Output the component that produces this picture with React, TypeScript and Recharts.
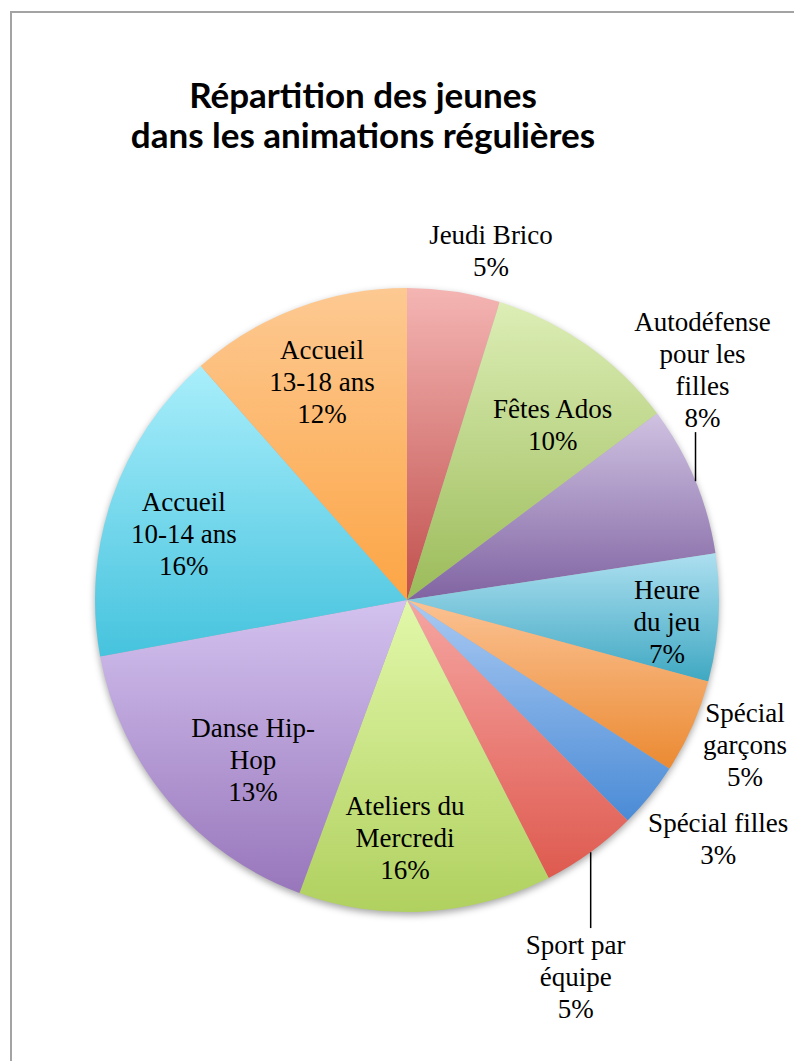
import React from 'react';
import { PieChart, Pie, Cell } from 'recharts';

// ---- Data ----
const categories = [
  'Jeudi Brico',
  'Fêtes Ados',
  'Autodéfense pour les filles',
  'Heure du jeu',
  'Spécial garçons',
  'Spécial filles',
  'Sport par équipe',
  'Ateliers du Mercredi',
  'Danse Hip-Hop',
  'Accueil 10-14 ans',
  'Accueil 13-18 ans',
];
// slice sizes (percent)
const values = [4.8, 10.0, 7.8, 6.6, 4.9, 3.4, 5.0, 13.1, 16.5, 16.4, 11.5];
// percentage labels as printed on the chart
const percentLabels = ['5%', '10%', '8%', '7%', '5%', '3%', '5%', '16%', '13%', '16%', '12%'];
// label line breaks as printed
const labelLines = [
  ['Jeudi Brico'],
  ['Fêtes Ados'],
  ['Autodéfense', 'pour les', 'filles'],
  ['Heure', 'du jeu'],
  ['Spécial', 'garçons'],
  ['Spécial filles'],
  ['Sport par', 'équipe'],
  ['Ateliers du', 'Mercredi'],
  ['Danse Hip-', 'Hop'],
  ['Accueil', '10-14 ans'],
  ['Accueil', '13-18 ans'],
];

// ---- Styles ----
const topColors = ['#f4b5b3', '#ddeeb6', '#d0c2e2', '#addff0', '#fbc293', '#a9c9f2', '#f6a5a2', '#e2f8aa', '#d3c2ef', '#a9eefb', '#fdc992'];
const bottomColors = ['#c0504d', '#9bbb59', '#8064a2', '#3fa8c2', '#eb8a32', '#4a8bd6', '#de5a4f', '#b0d05f', '#9876bb', '#46c3de', '#fca545'];

// label placement: radius factor & angular shift (clockwise, degrees) from the slice mid-angle
const placements = [
  { rf: 1.15, da: 4.9 },
  { rf: 0.73, da: 4.5 },
  { rf: 1.2, da: -15.2, leader: 'below', ldx: -7 },
  { rf: 0.836, da: 1.6 },
  { rf: 1.179, da: -0.7 },
  { rf: 1.257, da: -1.4 },
  { rf: 1.324, da: 11.9, leader: 'above', ldx: 15 },
  { rf: 0.763, da: 3.9 },
  { rf: 0.712, da: -6 },
  { rf: 0.746, da: -2.6 },
  { rf: 0.75, da: -0.6 },
];

const data = categories.map((name, i) => ({ name, value: values[i] }));

const LINE_H = 32;
const RAD = Math.PI / 180;

const renderLabel = (props: any) => {
  const { cx, cy, midAngle, outerRadius, index } = props;
  const p: any = placements[index];
  const a = (midAngle - p.da) * RAD;
  const r = outerRadius * p.rf;
  const x = cx + r * Math.cos(a);
  const y = cy - r * Math.sin(a);
  const lines = [...labelLines[index], percentLabels[index]];
  const n = lines.length;
  const firstY = y - ((n - 1) * LINE_H) / 2;
  let leader = null;
  if (p.leader) {
    const lx = x + p.ldx;
    const h = Math.sqrt(Math.max(0, outerRadius * outerRadius - (lx - cx) * (lx - cx)));
    if (p.leader === 'below') {
      const y1 = firstY + (n - 1) * LINE_H + 14;
      const y2 = cy - h;
      leader = <line x1={lx} y1={y1} x2={lx} y2={y2} stroke="#000" strokeWidth={1.5} />;
    } else {
      const y1 = firstY - 17;
      const y2 = cy + h;
      leader = <line x1={lx} y1={y1} x2={lx} y2={y2} stroke="#000" strokeWidth={1.5} />;
    }
  }
  return (
    <g key={`lbl-${index}`}>
      {leader}
      <text
        x={x}
        y={firstY}
        textAnchor="middle"
        fill="#000"
        style={{ fontFamily: '"Liberation Serif", "DejaVu Serif", serif', fontSize: 27 }}
      >
        {lines.map((t, i) => (
          <tspan key={i} x={x} y={firstY + i * LINE_H} dominantBaseline="central">
            {t}
          </tspan>
        ))}
      </text>
    </g>
  );
};

export default function App() {
  return (
    <div style={{ position: 'absolute', left: 0, top: 0, width: 794, height: 1061, overflow: 'hidden', background: '#fff' }}>
      <div
        style={{
          position: 'absolute',
          left: 10,
          top: 11,
          width: 790,
          height: 1060,
          borderTop: '2px solid #a3a3a3',
          borderLeft: '2px solid #a3a3a3',
        }}
      />
      <div
        style={{
          position: 'absolute',
          left: 0,
          width: 726,
          top: 74,
          textAlign: 'center',
          fontFamily: 'Lato, "Open Sans", sans-serif',
          fontWeight: 700,
          fontSize: 35,
          lineHeight: '40px',
          color: '#000',
          whiteSpace: 'nowrap',
        }}
      >
        Répartition des jeunes
        <br />
        dans les animations régulières
      </div>
      <div style={{ position: 'absolute', left: 0, top: 0 }}>
        <PieChart width={794} height={1061} margin={{ top: 0, right: 0, bottom: 0, left: 0 }}>
          <defs>
            {topColors.map((c, i) => (
              <linearGradient key={i} id={`grad${i}`} x1="0" y1="0" x2="0" y2="1">
                <stop offset="0%" stopColor={c} />
                <stop offset="100%" stopColor={bottomColors[i]} />
              </linearGradient>
            ))}
            <filter id="pieShadow" x="-20%" y="-20%" width="140%" height="140%">
              <feGaussianBlur stdDeviation="3.5" />
            </filter>
          </defs>
          <Pie
            data={data}
            dataKey="value"
            nameKey="name"
            cx={407}
            cy={603}
            outerRadius={312}
            startAngle={90}
            endAngle={-270}
            stroke="none"
            isAnimationActive={false}
            label={false}
            labelLine={false}
          >
            {data.map((_, i) => (
              <Cell key={i} fill="rgba(0,0,0,0.35)" filter="url(#pieShadow)" />
            ))}
          </Pie>
          <Pie
            data={data}
            dataKey="value"
            nameKey="name"
            cx={407}
            cy={600}
            outerRadius={312}
            startAngle={90}
            endAngle={-270}
            stroke="none"
            isAnimationActive={false}
            label={renderLabel}
            labelLine={false}
          >
            {data.map((_, i) => (
              <Cell key={i} fill={`url(#grad${i})`} />
            ))}
          </Pie>
        </PieChart>
      </div>
    </div>
  );
}
